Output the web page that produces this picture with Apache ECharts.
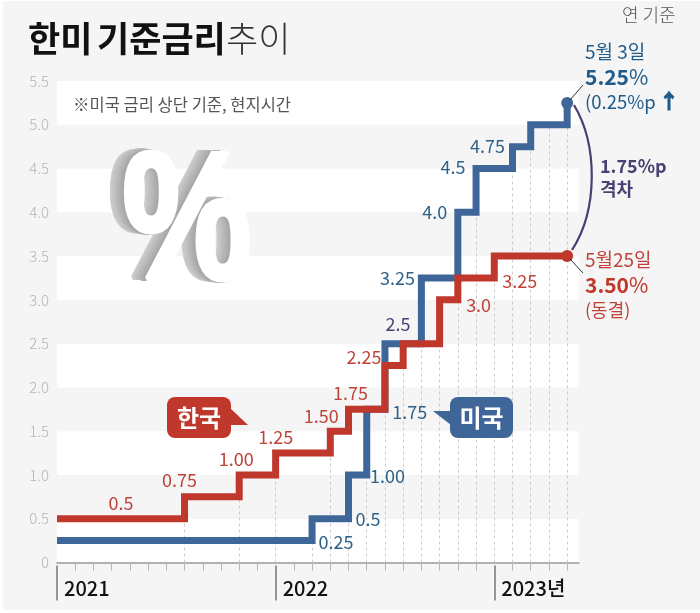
<!DOCTYPE html>
<html>
<head>
<meta charset="utf-8">
<style>
  html, body { margin: 0; padding: 0; background: #fff; }
  #bg { position: absolute; left: 3px; top: 1px; width: 697px; height: 609px; background: #f5f5f5; }
  #chart { position: absolute; left: 0; top: 0; width: 700px; height: 613px; }
</style>
</head>
<body>
<div id="bg"></div>
<div id="chart"></div>
<script src="https://cdn.jsdelivr.net/npm/echarts@6/dist/echarts.min.js"></script>
<script>
// months counted from Jan 2021
var koreaMonths = [0, 7, 10, 12, 15, 16, 18, 19, 21, 22, 24, 28];
var koreaRates = [0.5, 0.75, 1, 1.25, 1.5, 1.75, 2.25, 2.5, 3, 3.25, 3.5, 3.5];
var koreaLabels = ['0.5', '0.75', '1.00', '1.25', '1.50', '1.75', '2.25', '', '3.0', '3.25', '', ''];

var usMonths = [0, 14, 16, 17, 18, 20, 22, 23, 25, 26, 28];
var usRates = [0.25, 0.5, 1, 1.75, 2.5, 3.25, 4, 4.5, 4.75, 5, 5.25];
var usLabels = ['0.25', '0.5', '1.00', '1.75', '2.5', '3.25', '4.0', '4.5', '4.75', '', ''];

var dropMonths = [7, 10, 12, 14, 15, 16, 17, 18, 19, 20, 21, 22, 23, 24, 25, 26, 27, 28];
var dropTops = [0.75, 1, 1.25, 0.5, 1.5, 1, 1, 2.25, 2.5, 3.25, 3, 3.25, 4, 3.5, 4.5, 4.75, 5, 5.25];

var yearTicks = [0, 12, 24];
var yearLabels = ['2021', '2022', '2023년'];
var monthTicks = [1, 2, 3, 4, 5, 6, 7, 8, 9, 10, 11, 13, 14, 15, 16, 17, 18, 19, 20, 21, 22, 23, 25, 26, 27, 28];
var yTickLabels = ['0', '0.5', '1.0', '1.5', '2.0', '2.5', '3.0', '3.5', '4.0', '4.5', '5.0', '5.5'];

// label nudges in px, same order as the labels above
var koreaOffsets = [[64, -16], [-5, -17], [-3, -16], [0, -16], [-9, -15], [2, -16], [-21, -8], [0, 0], [39, 5], [62, 3], [0, 0], [0, 0]];
var usOffsets = [[279, 2], [56, 0], [39, 1], [43, 3], [13, -19], [-24, 0], [-23, 0], [-23, -1], [-25, -1], [0, 0], [0, 0]];

var RED = '#c0372c', BLUE = '#3f6699', PURPLE = '#4b3f72';
var RED_TXT = '#c0433a', BLUE_TXT = '#2f6188', BLUE_DARK = '#1f5c8c';
var FONT = '"Noto Sans CJK KR", "Noto Sans", sans-serif';

function pairs(xs, ys) {
    return xs.map(function (x, i) { return [x, ys[i]]; });
}

function labelSeries(xs, ys, labels, offsets, color) {
    var data = [];
    xs.forEach(function (x, i) {
        if (!labels[i]) return;
        var item = { value: [x, ys[i]], name: labels[i], label: { offset: offsets[i] } };
        if (labels[i] === '2.5' && color === BLUE_TXT) {
            item.label.color = PURPLE;
        }
        data.push(item);
    });
    return {
        type: 'scatter', symbolSize: 0, z: 6, silent: true, data: data,
        itemStyle: { opacity: 1 },
        label: {
            show: true, position: 'inside', formatter: '{b}', color: color,
            fontFamily: FONT, fontSize: 18, align: 'center', verticalAlign: 'middle'
        }
    };
}

function txt(x, y, text, fill, size, weight, extra) {
    var style = { text: text, x: x, y: y, fill: fill, fontSize: size, fontFamily: FONT, fontWeight: weight || 400, verticalAlign: 'middle' };
    if (extra) Object.keys(extra).forEach(function (k) { style[k] = extra[k]; });
    return { type: 'text', z: 20, silent: true, style: style };
}

function bubble(x, y, w, h, tail, color, text) {
    return [
        { type: 'polygon', z: 19, silent: true, shape: { points: tail }, style: { fill: color } },
        { type: 'rect', z: 19, silent: true, shape: { x: x, y: y, width: w, height: h, r: 8 }, style: { fill: color } },
        txt(x + w / 2, y + h / 2, text, '#fff', 24, 700, { align: 'center' })
    ];
}

// 3D percent sign: stack of grey copies with a white face on top
function percentSign() {
    var out = [], n = 14, cx = 187, cy = 229;
    function sign(x, y, fill, extra) {
        var style = {
            text: '%', x: 0, y: 0, align: 'center', verticalAlign: 'middle',
            fontFamily: '"Liberation Sans"', fontWeight: 700, fontSize: 182,
            fill: fill, stroke: fill, lineWidth: 5
        };
        if (extra) Object.keys(extra).forEach(function (k) { style[k] = extra[k]; });
        return { type: 'text', z: 2, silent: true, x: x, y: y, scaleX: 0.8, style: style };
    }
    for (var i = n; i > 0; i--) {
        var g = Math.round(205 - (n - i) * 3);
        out.push(sign(cx - i, cy - i * 0.1, 'rgb(' + g + ',' + g + ',' + g + ')', i === n ? { shadowBlur: 8, shadowColor: 'rgba(0,0,0,0.12)' } : null));
    }
    out.push(sign(cx, cy, '#fff', { shadowBlur: 12, shadowColor: 'rgba(0,0,0,0.22)', shadowOffsetX: 3, shadowOffsetY: 4 }));
    return out;
}

var graphics = [
    txt(28, 39, '한미', '#111', 35, 700),
    txt(97, 39, '기준금리', '#111', 35, 700),
    txt(226, 39, '추이', '#333', 35, 300),
    txt(622, 15, '연 기준', '#555', 18, 300),
    txt(73, 105, '※미국 금리 상단 기준, 현지시간', '#555', 16.5, 400),

    txt(585, 52, '5월 3일', BLUE_DARK, 19, 400),
    txt(585, 77, '{b|5.25}{l|%}', BLUE_DARK, 21, 700, {
        rich: { b: { fontSize: 21, fontWeight: 700, fontFamily: FONT, fill: BLUE_DARK }, l: { fontSize: 21, fontWeight: 400, fontFamily: FONT, fill: BLUE_DARK } }
    }),
    txt(585, 102, '(0.25%p', BLUE_DARK, 18.5, 400),
    txt(659, 101, '↑', BLUE_DARK, 20, 700, { stroke: BLUE_DARK, lineWidth: 1 }),
    { type: 'line', z: 20, silent: true, shape: { x1: 570, y1: 100, x2: 583, y2: 85 }, style: { stroke: '#333', lineWidth: 1 } },

    txt(600, 166, '1.75%p', PURPLE, 18, 700),
    txt(600, 189, '격차', PURPLE, 18, 700),
    {
        type: 'bezierCurve', z: 20, silent: true,
        shape: { x1: 574, y1: 105, cpx1: 598, cpy1: 145, cpx2: 598, cpy2: 210, x2: 572, y2: 250 },
        style: { stroke: PURPLE, lineWidth: 2.2, fill: 'none' }
    },

    txt(585, 260, '5월25일', RED_TXT, 19, 400),
    txt(585, 285, '{b|3.50}{l|%}', RED, 21, 700, {
        rich: { b: { fontSize: 21, fontWeight: 700, fontFamily: FONT, fill: RED }, l: { fontSize: 21, fontWeight: 400, fontFamily: FONT, fill: RED } }
    }),
    txt(585, 310, '(동결)', RED_TXT, 18, 400),
    { type: 'line', z: 20, silent: true, shape: { x1: 570, y1: 259, x2: 583, y2: 273 }, style: { stroke: '#333', lineWidth: 1 } }
].concat(
    bubble(167, 397, 64, 41, [[230, 408], [248, 425], [230, 425]], RED, '한국'),
    bubble(450, 397, 63, 41, [[451, 411], [433, 411], [451, 425]], BLUE, '미국'),
    percentSign()
);

var chart = echarts.init(document.getElementById('chart'));
chart.setOption({
    animation: false,
    backgroundColor: 'transparent',
    textStyle: { fontFamily: FONT },
    grid: { left: 57, top: 81, width: 522, height: 481.5 },
    xAxis: [
        {
            type: 'value', min: 0, max: 28.65, interval: 1,
            splitLine: { show: false },
            axisLine: { show: true, onZero: false, lineStyle: { color: '#999', width: 1.5 } },
            axisTick: { show: false }, axisLabel: { show: false }
        },
        {
            type: 'value', min: 0, max: 28.65, position: 'bottom', offset: 3,
            splitLine: { show: false }, axisLine: { show: false },
            axisTick: { show: true, length: 8, customValues: monthTicks, lineStyle: { color: '#b4b4b4', width: 1 } },
            axisLabel: { show: false }
        },
        {
            type: 'value', min: 0, max: 28.65, position: 'bottom', offset: 3,
            splitLine: { show: false }, axisLine: { show: false },
            axisTick: { show: true, length: 35, customValues: yearTicks, lineStyle: { color: '#777', width: 1.5 } },
            axisLabel: {
                show: true, customValues: yearTicks, margin: 13, color: '#111', fontSize: 20, fontWeight: 500,
                fontFamily: FONT, align: 'left', padding: [0, 0, 0, 7],
                formatter: function (v) { return yearLabels[yearTicks.indexOf(v)]; }
            }
        }
    ],
    yAxis: {
        type: 'value', min: 0, max: 5.5, interval: 0.5,
        axisLine: { show: false }, axisTick: { show: false }, splitLine: { show: false },
        splitArea: { show: true, areaStyle: { color: ['#fff', '#f5f5f5'] } },
        axisLabel: {
            margin: 8, color: '#b4b4b4', fontSize: 15, fontWeight: 300, fontFamily: FONT,
            formatter: function (v, i) { return yTickLabels[i]; }
        }
    },
    series: [
        {
            type: 'line', data: [], z: 1, silent: true,
            markLine: {
                z: 1, silent: true, symbol: 'none', label: { show: false }, animation: false,
                lineStyle: { color: '#ccc', width: 1, type: [3, 3] },
                data: dropMonths.map(function (m, i) {
                    return [{ coord: [m, 0] }, { coord: [m, dropTops[i]] }];
                })
            }
        },
        {
            name: '미국', type: 'line', step: 'end', z: 3, showSymbol: false, silent: true,
            data: pairs(usMonths, usRates),
            lineStyle: { color: BLUE, width: 7, cap: 'butt', join: 'miter' }
        },
        {
            name: '한국', type: 'line', step: 'end', z: 4, showSymbol: false, silent: true,
            data: pairs(koreaMonths, koreaRates),
            lineStyle: { color: RED, width: 7, cap: 'butt', join: 'miter' }
        },
        {
            type: 'scatter', z: 5, silent: true, symbolSize: 12,
            data: [
                { value: [usMonths[usMonths.length - 1], usRates[usRates.length - 1]], itemStyle: { color: BLUE, opacity: 1 } },
                { value: [koreaMonths[koreaMonths.length - 1], koreaRates[koreaRates.length - 1]], itemStyle: { color: RED, opacity: 1 } }
            ]
        },
        labelSeries(koreaMonths, koreaRates, koreaLabels, koreaOffsets, RED_TXT),
        labelSeries(usMonths, usRates, usLabels, usOffsets, BLUE_TXT)
    ],
    graphic: graphics
});
</script>
</body>
</html>
